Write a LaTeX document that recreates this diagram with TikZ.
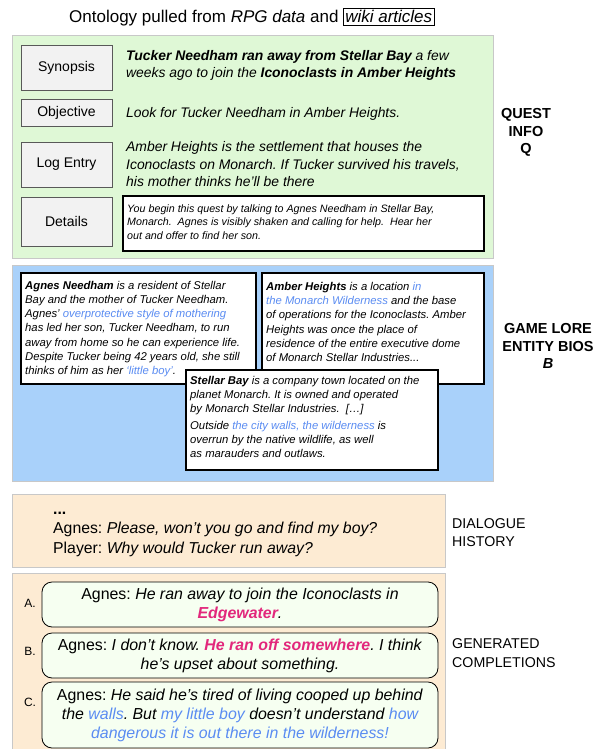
\documentclass[tikz,border=0pt]{standalone}
\usepackage{fontspec}
\setmainfont{Liberation Sans}
\usetikzlibrary{positioning}
\frenchspacing
\definecolor{questgreen}{HTML}{DFF8D6}
\definecolor{lorebg}{HTML}{A9D1FA}
\definecolor{dialoguebg}{HTML}{FDEBD3}
\definecolor{complbg}{HTML}{F6FFF1}
\definecolor{headgray}{HTML}{F2F2F2}
\definecolor{panelgray}{HTML}{C8C8C8}
\definecolor{hiblue}{HTML}{5A8CF2}
\definecolor{hipink}{HTML}{E2287C}
\newcommand{\hb}[1]{{\color{hiblue}#1}}
\newcommand{\hp}[1]{{\color{hipink}\textbf{#1}}}
\newcommand{\fs}[2]{\fontsize{#1}{#2}\selectfont}
\tikzset{
	panel/.style={draw=panelgray, line width=0.7pt},
	headbox/.style={draw=black!65, fill=headgray, line width=0.7pt, minimum width=91pt, font=\fs{14}{16}},
	biobox/.style={draw=black, fill=white, line width=1.8pt},
	complbox/.style={draw=black, fill=complbg, rounded corners=10pt, line width=0.8pt, minimum width=396pt, align=center, font=\fs{15.9}{19}},
	bodytext/.style={anchor=west, align=left, inner sep=0pt, font=\fs{13.9}{17.5}\itshape},
	biotext/.style={anchor=west, align=left, inner sep=0pt, font=\fs{11.3}{14.3}\itshape},
	sidelabel/.style={align=center, inner sep=0pt, font=\fs{14.5}{17.5}\bfseries},
	letter/.style={inner sep=0pt, font=\fs{12}{14}},
}
\begin{document}
\begin{tikzpicture}[x=1pt,y=-1pt]
	\useasboundingbox (0,0) rectangle (597,749);
	\fill[white] (0,0) rectangle (597,749);
	% title
	\node[anchor=base west, inner sep=0pt, font=\fs{17}{19}] (title) at (69,23) {Ontology pulled from \textit{RPG data} and};
	\node[draw, line width=1.2pt, anchor=base west, inner sep=2pt, font=\fs{17}{19}\itshape] (wiki) at ([xshift=4pt]title.base east) {wiki articles};

	% quest info
	\draw[panel, fill=questgreen] (12,35) rectangle (493,258);
	\node[headbox, minimum height=45pt] (synopsis) at (66.5,67.5) {Synopsis};
	\node[headbox, minimum height=27pt] (objective) at (66.5,113) {Objective};
	\node[headbox, minimum height=45pt] (logentry) at (66.5,164.5) {Log Entry};
	\node[headbox, minimum height=49pt] (details) at (66.5,221.5) {Details};
	\node[bodytext] (synopsistxt) at (126,65.5) {\textbf{Tucker Needham ran away from Stellar Bay} a few\\weeks ago to join the \textbf{Iconoclasts in Amber Heights}};
	\node[bodytext] (objectivetxt) at (126,114) {Look for Tucker Needham in Amber Heights.};
	\node[bodytext] (logentrytxt) at (126,164.5) {Amber Heights is the settlement that houses the\\Iconoclasts on Monarch. If Tucker survived his travels,\\his mother thinks he’ll be there};
	\draw[biobox] (123,196) rectangle (484,251);
	\node[anchor=west, align=left, inner sep=0pt, font=\fs{10.7}{13.6}\itshape] (detailstxt) at (127,222) {You begin this quest by talking to Agnes Needham in Stellar Bay,\\Monarch.\ \ Agnes is visibly shaken and calling for help.\ \ Hear her\\out and offer to find her son.};
	\node[sidelabel] (questlbl) at (526,132.5) {QUEST\\INFO\\Q};

	% game lore
	\draw[panel, fill=lorebg] (12,265) rectangle (493,481);
	\draw[biobox] (21,273) rectangle (256,384);
	\node[biotext] (agnes) at (25,329) {\textbf{Agnes Needham} is a resident of Stellar\\Bay and the mother of Tucker Needham.\\Agnes' \hb{overprotective style of mothering}\\has led her son, Tucker Needham, to run\\away from home so he can experience life.\\Despite Tucker being 42 years old, she still\\thinks of him as her \hb{‘little boy’}.};
	\draw[biobox] (262,273) rectangle (484,384);
	\node[biotext] (amber) at (266,322) {\textbf{Amber Heights} is a location \hb{in}\\\hb{the Monarch Wilderness} and the base\\of operations for the Iconoclasts. Amber\\Heights was once the place of\\residence of the entire executive dome\\of Monarch Stellar Industries...};
	\draw[biobox] (186,370) rectangle (438,470);
	\node[biotext] (stellar) at (190,417) {\textbf{Stellar Bay} is a company town located on the\\planet Monarch. It is owned and operated\\by Monarch Stellar Industries.\ \ […]\\[2pt]Outside \hb{the city walls, the wilderness} is\\overrun by the native wildlife, as well\\as marauders and outlaws.};
	\node[sidelabel] (lorelbl) at (548,346) {GAME LORE\\ENTITY BIOS\\\textit{B}};

	% dialogue history
	\draw[panel, fill=dialoguebg] (12,494) rectangle (445,567);
	\node[anchor=west, align=left, inner sep=0pt, font=\fs{15.8}{19.5}] (history) at (53,534) {\textbf{...}\\Agnes: \textit{Please, won’t you go and find my boy?}\\Player: \textit{Why would Tucker run away?}};
	\node[anchor=west, align=left, inner sep=0pt, font=\fs{14.2}{18.5}] (historylbl) at (452,532.5) {DIALOGUE\\HISTORY};

	% generated completions
	\draw[panel, fill=dialoguebg] (12,573) rectangle (445,760);
	\node[complbox, minimum height=45pt] (compla) at (240,604.5) {Agnes: \textit{He ran away to join the Iconoclasts in}\\\textit{\hp{Edgewater}.}};
	\node[complbox, minimum height=45pt] (complb) at (240,655.5) {Agnes: \textit{I don’t know. \hp{He ran off somewhere}. I think}\\\textit{he’s upset about something.}};
	\node[complbox, minimum height=66pt] (complc) at (240,715) {Agnes: \textit{He said he’s tired of living cooped up behind}\\\textit{the \hb{walls}. But \hb{my little boy} doesn’t understand \hb{how}}\\\textit{\hb{dangerous it is out there in the wilderness!}}};
	\node[letter] (la) at (30,603) {A.};
	\node[letter] (lb) at (30,651) {B.};
	\node[letter] (lc) at (30,702) {C.};
	\node[anchor=west, align=left, inner sep=0pt, font=\fs{14.2}{18.5}] (complbl) at (452,653) {GENERATED\\COMPLETIONS};
\end{tikzpicture}
\end{document}
